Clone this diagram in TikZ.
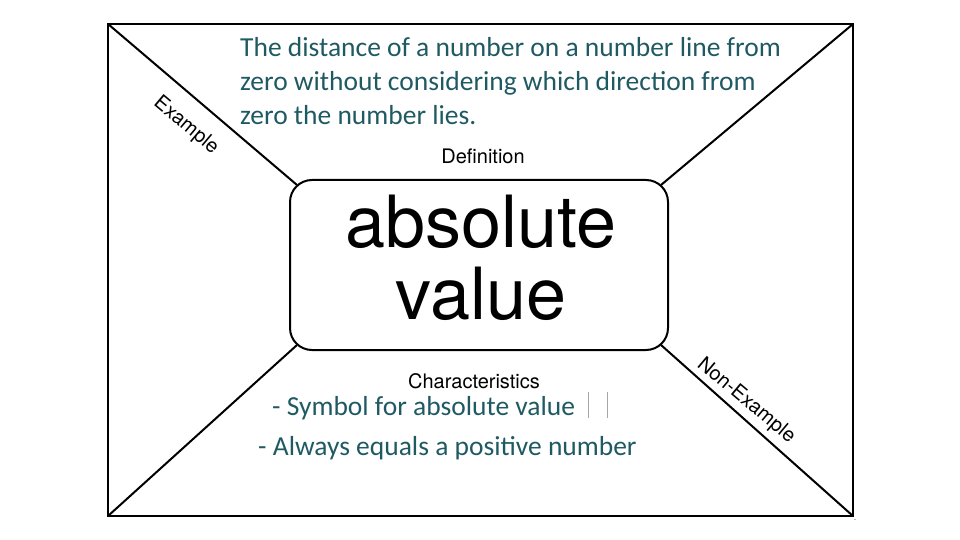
\documentclass[tikz,border=0pt]{standalone}
\usepackage{fontspec}
\usetikzlibrary{calc}
\setmainfont{Carlito}
\newfontfamily\lab{TeX Gyre Heros}
\begin{document}
\begin{tikzpicture}[x=1pt,y=-1pt,
  frame/.style={line width=2.5pt,black},
  diag/.style={line width=2pt,black},
  teal/.style={text=tealtxt,font=\fontsize{27.5}{30}\selectfont,anchor=base west,inner sep=0},
  lbl/.style={font=\lab\fontsize{20}{22}\selectfont,inner sep=0},
  big/.style={font=\lab\fontsize{72}{72}\selectfont,inner sep=0}]
\definecolor{tealtxt}{HTML}{1F5A63}
\useasboundingbox (0,0) rectangle (960,540);
\draw[frame] (108,24) rectangle (853,516);
\node[draw,line width=2pt,rounded corners=22pt,minimum width=378pt,minimum height=170pt] (box) at (479,265) {};
\coordinate (tl) at (108,24); \coordinate (tr) at (853,24);
\coordinate (bl) at (108,516); \coordinate (br) at (853,516);
\draw[diag] (tl) -- ($(box.north west)+(8,6)$);
\draw[diag] (tr) -- ($(box.north east)+(-8,6)$);
\draw[diag] (bl) -- ($(box.south west)+(8,-6)$);
\draw[diag] (br) -- ($(box.south east)+(-8,-6)$);
\node[big] (w1) at (481,222) {absolute};
\node[big] (w2) at (481,294) {value};
\node[lbl] (def) at (483,156) {Definition};
\node[lbl] (cha) at (474,381) {Characteristics};
\node[lbl,rotate=-40] (ex) at (186,126) {Example};
\node[lbl,rotate=-40] (nex) at (746,401) {Non-Example};
\node[teal] (t1) at (240,57) {The distance of a number on a number line from};
\node[teal] (t2) at (240,91) {zero without considering which direction from};
\node[teal] (t3) at (240,125) {zero the number lies.};
\node[teal] (b1) at (272,415) {- Symbol for absolute value};
\node[teal] (b2) at (258,455) {- Always equals a positive number};
\draw[gray!70,line width=0.8pt] (588,392) -- (588,418) (607,392) -- (607,418);
\node[font=\tiny] (dots) at (855,520) {..};
\end{tikzpicture}
\end{document}
